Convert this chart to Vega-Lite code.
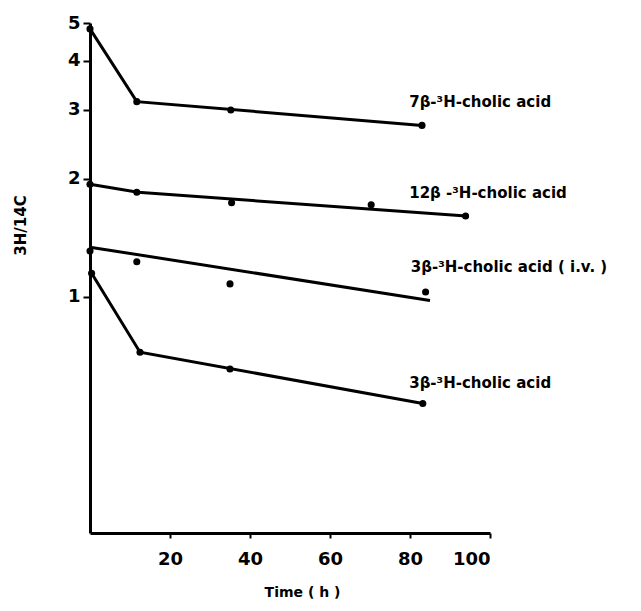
{
  "$schema": "https://vega.github.io/schema/vega-lite/v6.json",
  "width": 400,
  "height": 510,
  "autosize": "none",
  "padding": {"left": 90, "top": 23, "right": 151, "bottom": 78},
  "background": "white",
  "config": {
    "view": {"stroke": null},
    "font": "DejaVu Sans"
  },
  "datasets": {
    "points": [
      {"series": "7b", "t": 0, "ratio": 4.83},
      {"series": "7b", "t": 11.7, "ratio": 3.15},
      {"series": "7b", "t": 35.2, "ratio": 3.0},
      {"series": "7b", "t": 83, "ratio": 2.74},
      {"series": "12b", "t": 0, "ratio": 1.94},
      {"series": "12b", "t": 11.7, "ratio": 1.85},
      {"series": "12b", "t": 35.4, "ratio": 1.74},
      {"series": "12b", "t": 70.3, "ratio": 1.72},
      {"series": "12b", "t": 93.9, "ratio": 1.61},
      {"series": "3biv", "t": 0, "ratio": 1.31},
      {"series": "3biv", "t": 11.7, "ratio": 1.23},
      {"series": "3biv", "t": 35, "ratio": 1.08},
      {"series": "3biv", "t": 83.9, "ratio": 1.03},
      {"series": "3b", "t": 0.4, "ratio": 1.15},
      {"series": "3b", "t": 12.5, "ratio": 0.723},
      {"series": "3b", "t": 35, "ratio": 0.655},
      {"series": "3b", "t": 83.2, "ratio": 0.535}
    ],
    "lines": [
      {"series": "7b", "t": 0, "ratio": 4.83},
      {"series": "7b", "t": 11.7, "ratio": 3.15},
      {"series": "7b", "t": 83, "ratio": 2.74},
      {"series": "12b", "t": 0, "ratio": 1.94},
      {"series": "12b", "t": 12, "ratio": 1.85},
      {"series": "12b", "t": 94, "ratio": 1.61},
      {"series": "3biv", "t": 0, "ratio": 1.34},
      {"series": "3biv", "t": 85, "ratio": 0.98},
      {"series": "3b", "t": 0.4, "ratio": 1.15},
      {"series": "3b", "t": 12.5, "ratio": 0.723},
      {"series": "3b", "t": 83.2, "ratio": 0.535}
    ],
    "labels": [
      {"t": 79.8, "ratio": 3.14, "label": "7β-³H-cholic acid"},
      {"t": 79.8, "ratio": 1.84, "label": "12β -³H-cholic acid"},
      {"t": 80.2, "ratio": 1.195, "label": "3β-³H-cholic acid ( i.v. )"},
      {"t": 79.8, "ratio": 0.602, "label": "3β-³H-cholic acid"}
    ]
  },
  "encoding": {
    "x": {
      "field": "t",
      "type": "quantitative",
      "scale": {"domain": [0, 100], "nice": false, "zero": false},
      "axis": {
        "title": "Time ( h )",
        "values": [20, 40, 60, 80, 100],
        "grid": false,
        "domainColor": "black",
        "domainWidth": 3,
        "tickColor": "black",
        "tickWidth": 2,
        "tickSize": 5,
        "labelPadding": 12,
        "labelFont": "DejaVu Sans",
        "labelFontSize": 18,
        "labelFontWeight": "bold",
        "labelColor": "black",
        "titleFont": "DejaVu Sans",
        "titleFontSize": 14,
        "titleFontWeight": "bold",
        "titleColor": "black",
        "titleX": 212,
        "titleY": 59,
        "titleBaseline": "middle"
      }
    },
    "y": {
      "field": "ratio",
      "type": "quantitative",
      "scale": {"type": "log", "domain": [0.25, 5], "nice": false},
      "axis": {
        "title": "3H/14C",
        "values": [1, 2, 3, 4, 5],
        "format": "d",
        "grid": false,
        "domainColor": "black",
        "domainWidth": 3,
        "tickColor": "black",
        "tickWidth": 2,
        "tickSize": 7,
        "labelPadding": 3,
        "labelFont": "DejaVu Sans",
        "labelFontSize": 18,
        "labelFontWeight": "bold",
        "labelColor": "black",
        "titleFont": "DejaVu Sans",
        "titleFontSize": 15,
        "titleFontWeight": "bold",
        "titleColor": "black",
        "titleAngle": -90,
        "titleX": -70,
        "titleY": 202,
        "titleBaseline": "middle",
        "titleAlign": "center"
      }
    }
  },
  "layer": [
    {
      "data": {"name": "lines"},
      "mark": {"type": "line", "color": "black", "strokeWidth": 3, "clip": false},
      "encoding": {"detail": {"field": "series"}}
    },
    {
      "data": {"name": "points"},
      "mark": {"type": "point", "filled": true, "color": "black", "opacity": 1, "size": 50, "clip": false}
    },
    {
      "data": {"name": "labels"},
      "mark": {"type": "text", "align": "left", "baseline": "middle", "font": "DejaVu Sans", "fontSize": 15, "fontWeight": "bold", "color": "black", "clip": false},
      "encoding": {"text": {"field": "label"}}
    }
  ]
}
